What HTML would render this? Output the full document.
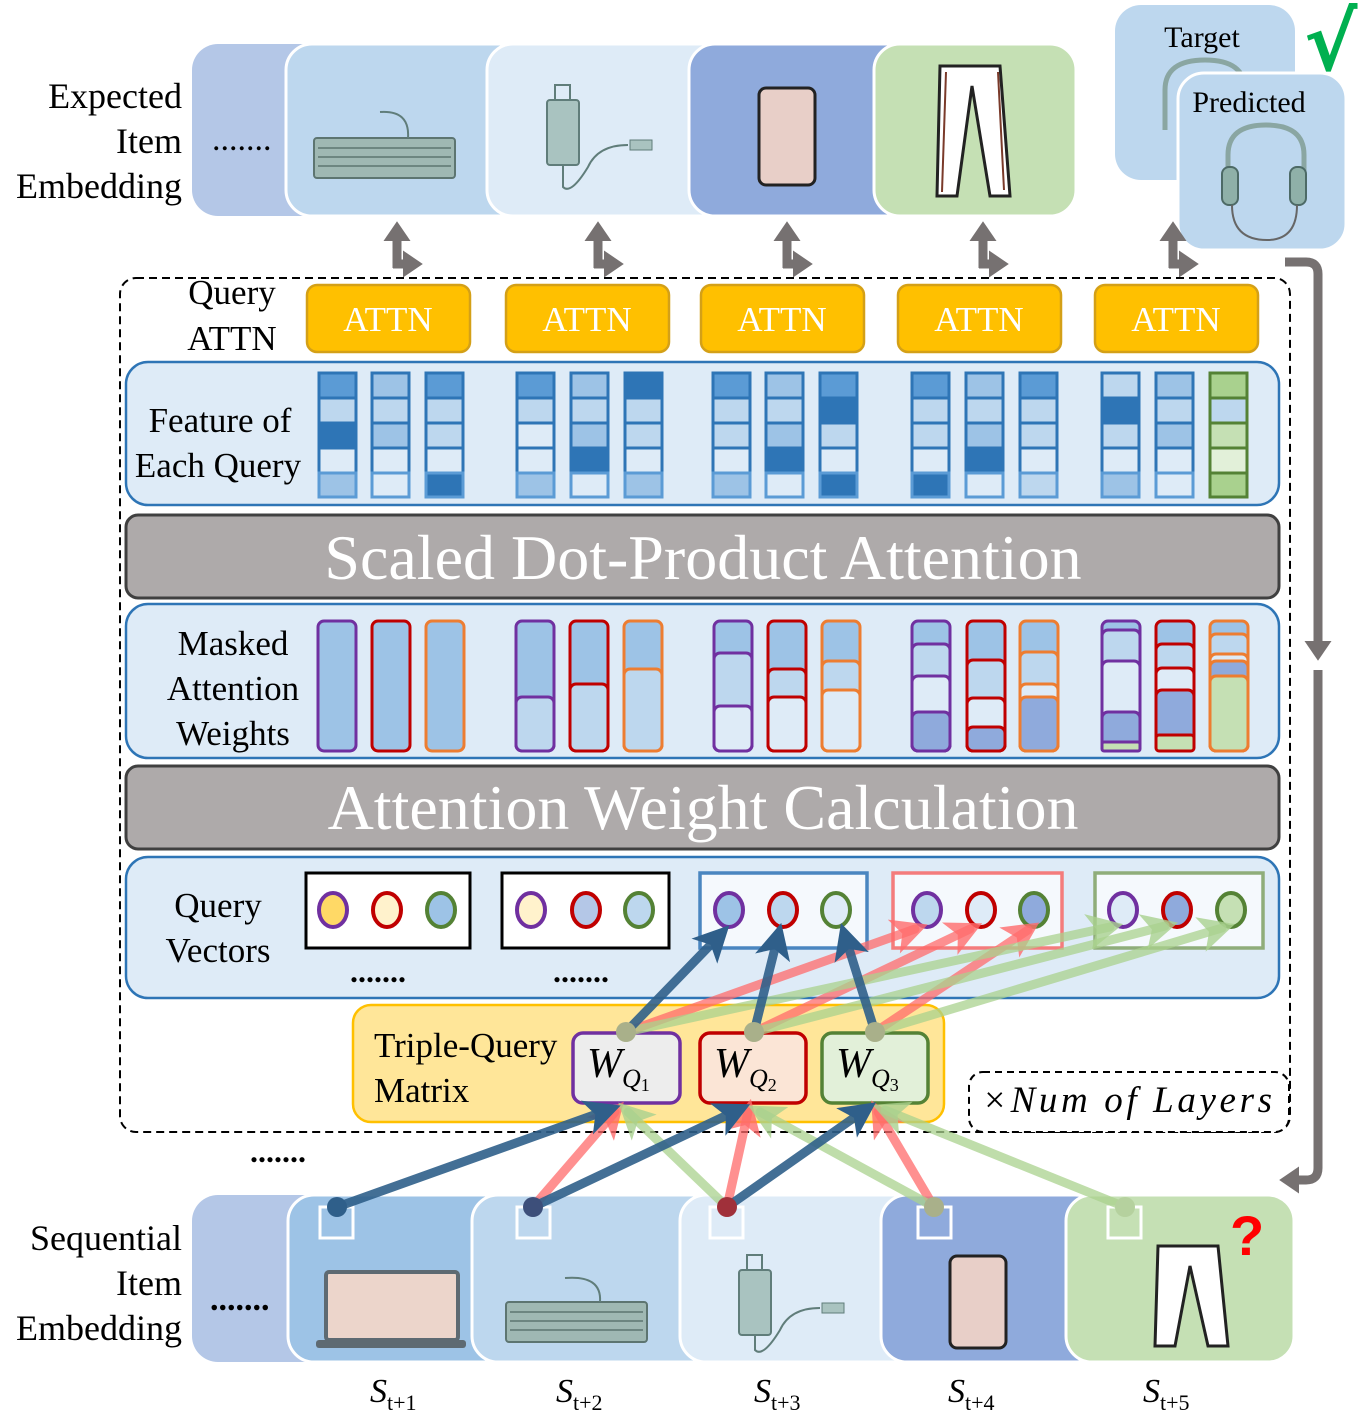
<!DOCTYPE html>
<html><head><meta charset="utf-8"><style>html,body{margin:0;padding:0;background:#fff}svg{display:block}</style></head><body>
<svg width="1368" height="1415" viewBox="0 0 1368 1415" xmlns="http://www.w3.org/2000/svg" font-family="Liberation Serif, serif">
<defs>
<marker id="ab" markerWidth="4" markerHeight="4" refX="2.5" refY="2" orient="auto" markerUnits="strokeWidth"><path d="M0,0 L4,2 L0,4 L1,2z" fill="#2f5f8a"/></marker>
<marker id="ar" markerWidth="4" markerHeight="4" refX="2.5" refY="2" orient="auto" markerUnits="strokeWidth"><path d="M0,0 L4,2 L0,4 L1,2z" fill="#ff6b6b" fill-opacity="0.8"/></marker>
<marker id="ag" markerWidth="4" markerHeight="4" refX="2.5" refY="2" orient="auto" markerUnits="strokeWidth"><path d="M0,0 L4,2 L0,4 L1,2z" fill="#a9d18e" fill-opacity="0.8"/></marker>
<marker id="gy" markerWidth="3" markerHeight="3" refX="1" refY="1.5" orient="auto" markerUnits="strokeWidth"><path d="M0,0 L2.2,1.5 L0,3z" fill="#767171"/></marker>
</defs>

<!-- Top cards -->
<g stroke="#fff" stroke-width="3">
<rect x="192" y="44" width="180" height="172" rx="26" fill="#b4c7e7" stroke="none"/>
<rect x="286" y="44" width="240" height="172" rx="26" fill="#bdd7ee"/>
<rect x="487" y="44" width="240" height="172" rx="26" fill="#deebf7"/>
<rect x="689" y="44" width="230" height="172" rx="26" fill="#8faadc"/>
<rect x="874" y="44" width="202" height="172" rx="26" fill="#c5e0b4"/>
</g>
<text x="182" y="108" font-size="36" text-anchor="end">Expected</text>
<text x="182" y="153" font-size="36" text-anchor="end">Item</text>
<text x="182" y="198" font-size="36" text-anchor="end">Embedding</text>
<text x="212" y="150" font-size="34">.......</text>
<rect x="314" y="138" width="141" height="40" rx="3" fill="#9fb8b3" stroke="#5d7571" stroke-width="2"/>
<path d="M318 148h133M318 157h133M318 166h133" stroke="#5d7571" stroke-width="1.5"/>
<path d="M408 138 Q410 110 380 112" stroke="#607d7a" stroke-width="2" fill="none"/>
<rect x="547" y="100" width="32" height="65" rx="3" fill="#a9c3c0" stroke="#607d7a" stroke-width="2"/>
<path d="M555 100 v-15 h15 v15 M563 165 v22 q8 8 25 -20 q10 -22 40 -22" stroke="#607d7a" stroke-width="2" fill="none"/>
<rect x="630" y="140" width="22" height="10" fill="#a9c3c0" stroke="#607d7a"/>
<rect x="759" y="88" width="56" height="97" rx="7" fill="#e8cfc8" stroke="#222" stroke-width="3"/>
<path d="M940 66 h60 l10 130 h-20 l-18 -110 l-15 110 h-20 z" fill="#fff" stroke="#222" stroke-width="3"/>
<path d="M946 72 l-4 120 M998 72 l6 118" stroke="#7a3a2a" stroke-width="2"/>

<!-- Target/Predicted -->
<rect x="1115" y="5" width="180" height="175" rx="26" fill="#bdd7ee"/>
<text x="1202" y="47" font-size="30" text-anchor="middle">Target</text>
<path d="M1165 130 v-40 q0 -30 40 -30 q40 0 40 30" stroke="#8aa6a2" stroke-width="5" fill="none"/>
<rect x="1178" y="73" width="168" height="177" rx="26" fill="#bdd7ee" stroke="#fff" stroke-width="3"/>
<text x="1249" y="112" font-size="30" text-anchor="middle">Predicted</text>
<path d="M1228 185 v-30 q0 -30 38 -30 q38 0 38 30 v30" stroke="#8aa6a2" stroke-width="5" fill="none"/>
<rect x="1222" y="167" width="16" height="38" rx="7" fill="#8fb0a8" stroke="#4d6a66" stroke-width="2"/>
<rect x="1290" y="167" width="16" height="38" rx="7" fill="#8fb0a8" stroke="#4d6a66" stroke-width="2"/>
<path d="M1232 205 q0 35 35 35 q30 0 30 -35" stroke="#666" stroke-width="2" fill="none"/>
<text x="1304" y="70" font-size="80" fill="#00b050" font-family="DejaVu Sans, sans-serif" font-weight="bold">√</text>

<!-- L arrows top -->
<g stroke="#767171" stroke-width="9" fill="none">
<path d="M397 268 V232" marker-end="url(#gy)"/><path d="M393 264 H412" marker-end="url(#gy)"/>
<path d="M598 268 V232" marker-end="url(#gy)"/><path d="M594 264 H613" marker-end="url(#gy)"/>
<path d="M787 268 V232" marker-end="url(#gy)"/><path d="M783 264 H802" marker-end="url(#gy)"/>
<path d="M983 268 V232" marker-end="url(#gy)"/><path d="M979 264 H998" marker-end="url(#gy)"/>
<path d="M1173 268 V232" marker-end="url(#gy)"/><path d="M1169 264 H1188" marker-end="url(#gy)"/>
</g>
<path d="M1285 262 H1306 Q1318 262 1318 274 V650" stroke="#767171" stroke-width="9" fill="none" marker-end="url(#gy)"/>
<path d="M1318 670 V1168 Q1318 1180 1306 1180 H1290" stroke="#767171" stroke-width="9" fill="none" marker-end="url(#gy)"/>

<rect x="120" y="278" width="1170" height="854" rx="16" fill="none" stroke="#000" stroke-width="2" stroke-dasharray="8 5"/>
<text x="232" y="304" font-size="35" text-anchor="middle">Query</text>
<text x="232" y="350" font-size="35" text-anchor="middle">ATTN</text>
<g fill="#ffc000" stroke="#d4a017" stroke-width="2.5">
<rect x="307" y="285" width="163" height="67" rx="10"/><rect x="506" y="285" width="163" height="67" rx="10"/>
<rect x="701" y="285" width="163" height="67" rx="10"/><rect x="898" y="285" width="163" height="67" rx="10"/>
<rect x="1095" y="285" width="163" height="67" rx="10"/>
</g>
<g fill="#fff" font-size="35" text-anchor="middle">
<text x="388" y="331">ATTN</text><text x="587" y="331">ATTN</text><text x="782" y="331">ATTN</text><text x="979" y="331">ATTN</text><text x="1176" y="331">ATTN</text>
</g>

<!-- Feature panel -->
<rect x="126" y="362" width="1153" height="143" rx="22" fill="#deebf7" stroke="#2e75b6" stroke-width="2.5"/>
<text x="220" y="432" font-size="35" text-anchor="middle">Feature of</text>
<text x="218" y="477" font-size="35" text-anchor="middle">Each Query</text>
<g stroke="#2e75b6" stroke-width="3">
<rect x="319" y="373" width="37" height="25" fill="#5b9bd5"/><rect x="319" y="398" width="37" height="25" fill="#bdd7ee"/><rect x="319" y="423" width="37" height="25" fill="#2e75b6"/><rect x="319" y="448" width="37" height="25" fill="#deebf7"/><rect x="319" y="473" width="37" height="24" fill="#9dc3e6" stroke="#5b9bd5"/>
<rect x="372" y="373" width="37" height="25" fill="#9dc3e6"/><rect x="372" y="398" width="37" height="25" fill="#bdd7ee"/><rect x="372" y="423" width="37" height="25" fill="#9dc3e6"/><rect x="372" y="448" width="37" height="25" fill="#deebf7"/><rect x="372" y="473" width="37" height="24" fill="#deebf7" stroke="#5b9bd5"/>
<rect x="426" y="373" width="37" height="25" fill="#5b9bd5"/><rect x="426" y="398" width="37" height="25" fill="#bdd7ee"/><rect x="426" y="423" width="37" height="25" fill="#bdd7ee"/><rect x="426" y="448" width="37" height="25" fill="#deebf7"/><rect x="426" y="473" width="37" height="24" fill="#2e75b6" stroke="#5b9bd5"/>
<rect x="517" y="373" width="37" height="25" fill="#5b9bd5"/><rect x="517" y="398" width="37" height="25" fill="#bdd7ee"/><rect x="517" y="423" width="37" height="25" fill="#deebf7"/><rect x="517" y="448" width="37" height="25" fill="#deebf7"/><rect x="517" y="473" width="37" height="24" fill="#9dc3e6" stroke="#5b9bd5"/>
<rect x="571" y="373" width="37" height="25" fill="#9dc3e6"/><rect x="571" y="398" width="37" height="25" fill="#bdd7ee"/><rect x="571" y="423" width="37" height="25" fill="#9dc3e6"/><rect x="571" y="448" width="37" height="25" fill="#2e75b6"/><rect x="571" y="473" width="37" height="24" fill="#deebf7" stroke="#5b9bd5"/>
<rect x="625" y="373" width="37" height="25" fill="#2e75b6"/><rect x="625" y="398" width="37" height="25" fill="#bdd7ee"/><rect x="625" y="423" width="37" height="25" fill="#bdd7ee"/><rect x="625" y="448" width="37" height="25" fill="#deebf7"/><rect x="625" y="473" width="37" height="24" fill="#9dc3e6" stroke="#5b9bd5"/>
<rect x="713" y="373" width="37" height="25" fill="#5b9bd5"/><rect x="713" y="398" width="37" height="25" fill="#bdd7ee"/><rect x="713" y="423" width="37" height="25" fill="#bdd7ee"/><rect x="713" y="448" width="37" height="25" fill="#deebf7"/><rect x="713" y="473" width="37" height="24" fill="#9dc3e6" stroke="#5b9bd5"/>
<rect x="766" y="373" width="37" height="25" fill="#9dc3e6"/><rect x="766" y="398" width="37" height="25" fill="#bdd7ee"/><rect x="766" y="423" width="37" height="25" fill="#9dc3e6"/><rect x="766" y="448" width="37" height="25" fill="#2e75b6"/><rect x="766" y="473" width="37" height="24" fill="#deebf7" stroke="#5b9bd5"/>
<rect x="820" y="373" width="37" height="25" fill="#5b9bd5"/><rect x="820" y="398" width="37" height="25" fill="#2e75b6"/><rect x="820" y="423" width="37" height="25" fill="#bdd7ee"/><rect x="820" y="448" width="37" height="25" fill="#deebf7"/><rect x="820" y="473" width="37" height="24" fill="#2e75b6" stroke="#5b9bd5"/>
<rect x="912" y="373" width="37" height="25" fill="#5b9bd5"/><rect x="912" y="398" width="37" height="25" fill="#bdd7ee"/><rect x="912" y="423" width="37" height="25" fill="#bdd7ee"/><rect x="912" y="448" width="37" height="25" fill="#deebf7"/><rect x="912" y="473" width="37" height="24" fill="#2e75b6" stroke="#5b9bd5"/>
<rect x="966" y="373" width="37" height="25" fill="#9dc3e6"/><rect x="966" y="398" width="37" height="25" fill="#bdd7ee"/><rect x="966" y="423" width="37" height="25" fill="#9dc3e6"/><rect x="966" y="448" width="37" height="25" fill="#2e75b6"/><rect x="966" y="473" width="37" height="24" fill="#deebf7" stroke="#5b9bd5"/>
<rect x="1020" y="373" width="37" height="25" fill="#5b9bd5"/><rect x="1020" y="398" width="37" height="25" fill="#bdd7ee"/><rect x="1020" y="423" width="37" height="25" fill="#bdd7ee"/><rect x="1020" y="448" width="37" height="25" fill="#deebf7"/><rect x="1020" y="473" width="37" height="24" fill="#bdd7ee" stroke="#5b9bd5"/>
<rect x="1102" y="373" width="37" height="25" fill="#bdd7ee"/><rect x="1102" y="398" width="37" height="25" fill="#2e75b6"/><rect x="1102" y="423" width="37" height="25" fill="#bdd7ee"/><rect x="1102" y="448" width="37" height="25" fill="#deebf7"/><rect x="1102" y="473" width="37" height="24" fill="#9dc3e6" stroke="#5b9bd5"/>
<rect x="1156" y="373" width="37" height="25" fill="#9dc3e6"/><rect x="1156" y="398" width="37" height="25" fill="#bdd7ee"/><rect x="1156" y="423" width="37" height="25" fill="#9dc3e6"/><rect x="1156" y="448" width="37" height="25" fill="#deebf7"/><rect x="1156" y="473" width="37" height="24" fill="#deebf7" stroke="#5b9bd5"/>
<g stroke="#548235"><rect x="1210" y="373" width="37" height="25" fill="#a9d18e"/><rect x="1210" y="398" width="37" height="25" fill="#bdd7ee"/><rect x="1210" y="423" width="37" height="25" fill="#c5e0b4"/><rect x="1210" y="448" width="37" height="25" fill="#e2f0d9"/><rect x="1210" y="473" width="37" height="24" fill="#a9d18e"/></g>
</g>

<rect x="126" y="515" width="1153" height="83" rx="12" fill="#aeaaaa" stroke="#404040" stroke-width="3"/>
<text x="703" y="579" font-size="64" fill="#fff" text-anchor="middle">Scaled Dot-Product Attention</text>

<rect x="126" y="604" width="1153" height="154" rx="22" fill="#deebf7" stroke="#2e75b6" stroke-width="2.5"/>
<text x="233" y="655" font-size="35" text-anchor="middle">Masked</text>
<text x="233" y="700" font-size="35" text-anchor="middle">Attention</text>
<text x="233" y="745" font-size="35" text-anchor="middle">Weights</text>
<g stroke-width="3">
<rect x="318" y="621" width="38" height="130" rx="6" fill="#9dc3e6" stroke="#7030a0"/>
<rect x="372" y="621" width="38" height="130" rx="6" fill="#9dc3e6" stroke="#c00000"/>
<rect x="426" y="621" width="38" height="130" rx="6" fill="#9dc3e6" stroke="#ed7d31"/>
<g stroke="#7030a0"><rect x="516" y="621" width="38" height="130" rx="6" fill="#9dc3e6"/><rect x="516" y="697" width="38" height="54" rx="6" fill="#bdd7ee"/></g>
<g stroke="#c00000"><rect x="570" y="621" width="38" height="130" rx="6" fill="#9dc3e6"/><rect x="570" y="684" width="38" height="67" rx="6" fill="#bdd7ee"/></g>
<g stroke="#ed7d31"><rect x="624" y="621" width="38" height="130" rx="6" fill="#9dc3e6"/><rect x="624" y="669" width="38" height="82" rx="6" fill="#bdd7ee"/></g>
<g stroke="#7030a0"><rect x="714" y="621" width="38" height="130" rx="6" fill="#9dc3e6"/><rect x="714" y="653" width="38" height="98" rx="6" fill="#bdd7ee"/><rect x="714" y="706" width="38" height="45" rx="6" fill="#deebf7"/></g>
<g stroke="#c00000"><rect x="768" y="621" width="38" height="130" rx="6" fill="#9dc3e6"/><rect x="768" y="669" width="38" height="82" rx="6" fill="#bdd7ee"/><rect x="768" y="697" width="38" height="54" rx="6" fill="#deebf7"/></g>
<g stroke="#ed7d31"><rect x="822" y="621" width="38" height="130" rx="6" fill="#9dc3e6"/><rect x="822" y="661" width="38" height="90" rx="6" fill="#bdd7ee"/><rect x="822" y="690" width="38" height="61" rx="6" fill="#deebf7"/></g>
<g stroke="#7030a0"><rect x="912" y="621" width="38" height="130" rx="6" fill="#9dc3e6"/><rect x="912" y="644" width="38" height="107" rx="6" fill="#bdd7ee"/><rect x="912" y="676" width="38" height="75" rx="6" fill="#deebf7"/><rect x="912" y="712" width="38" height="39" rx="6" fill="#8faadc"/></g>
<g stroke="#c00000"><rect x="967" y="621" width="38" height="130" rx="6" fill="#9dc3e6"/><rect x="967" y="660" width="38" height="91" rx="6" fill="#bdd7ee"/><rect x="967" y="698" width="38" height="53" rx="6" fill="#deebf7"/><rect x="967" y="727" width="38" height="24" rx="6" fill="#8faadc"/></g>
<g stroke="#ed7d31"><rect x="1020" y="621" width="38" height="130" rx="6" fill="#9dc3e6"/><rect x="1020" y="652" width="38" height="99" rx="6" fill="#bdd7ee"/><rect x="1020" y="684" width="38" height="67" rx="6" fill="#deebf7"/><rect x="1020" y="697" width="38" height="54" rx="6" fill="#8faadc"/></g>
<g stroke="#7030a0"><rect x="1102" y="621" width="38" height="130" rx="6" fill="#9dc3e6"/><rect x="1102" y="630" width="38" height="121" rx="6" fill="#bdd7ee"/><rect x="1102" y="661" width="38" height="90" rx="6" fill="#deebf7"/><rect x="1102" y="712" width="38" height="39" rx="6" fill="#8faadc"/><rect x="1102" y="742" width="38" height="9" rx="2" fill="#c5e0b4"/></g>
<g stroke="#c00000"><rect x="1156" y="621" width="38" height="130" rx="6" fill="#9dc3e6"/><rect x="1156" y="644" width="38" height="107" rx="6" fill="#bdd7ee"/><rect x="1156" y="668" width="38" height="83" rx="6" fill="#deebf7"/><rect x="1156" y="690" width="38" height="61" rx="6" fill="#8faadc"/><rect x="1156" y="735" width="38" height="16" rx="3" fill="#c5e0b4"/></g>
<g stroke="#ed7d31"><rect x="1210" y="621" width="38" height="130" rx="6" fill="#9dc3e6"/><rect x="1210" y="634" width="38" height="117" rx="6" fill="#bdd7ee"/><rect x="1210" y="654" width="38" height="97" rx="6" fill="#deebf7"/><rect x="1210" y="661" width="38" height="90" rx="6" fill="#8faadc"/><rect x="1210" y="676" width="38" height="75" rx="6" fill="#c5e0b4"/></g>
</g>

<rect x="126" y="766" width="1153" height="83" rx="12" fill="#aeaaaa" stroke="#404040" stroke-width="3"/>
<text x="703" y="829" font-size="64" fill="#fff" text-anchor="middle">Attention Weight Calculation</text>

<rect x="126" y="857" width="1153" height="141" rx="22" fill="#deebf7" stroke="#2e75b6" stroke-width="2.5"/>
<text x="218" y="917" font-size="35" text-anchor="middle">Query</text>
<text x="218" y="962" font-size="35" text-anchor="middle">Vectors</text>
<rect x="306" y="873" width="164" height="75" fill="#fff" stroke="#000" stroke-width="3"/>
<rect x="502" y="873" width="167" height="75" fill="#fff" stroke="#000" stroke-width="3"/>
<rect x="700" y="873" width="167" height="75" fill="#f5f9fd" stroke="#4a86c0" stroke-width="3.5"/>
<rect x="893" y="873" width="169" height="75" fill="#f5f9fd" stroke="#f47c7c" stroke-width="3.5"/>
<rect x="1095" y="873" width="168" height="75" fill="#f5f9fd" stroke="#8fad7a" stroke-width="3.5"/>
<text x="350" y="982" font-size="32" font-weight="bold">.......</text>
<text x="553" y="982" font-size="32" font-weight="bold">.......</text>
<g stroke-width="4">
<ellipse cx="333" cy="910" rx="14" ry="17" fill="#ffd966" stroke="#7030a0"/><ellipse cx="387" cy="910" rx="14" ry="17" fill="#fff2cc" stroke="#c00000"/><ellipse cx="441" cy="910" rx="14" ry="17" fill="#9dc3e6" stroke="#548235"/>
<ellipse cx="531" cy="910" rx="14" ry="17" fill="#fff2cc" stroke="#7030a0"/><ellipse cx="586" cy="910" rx="14" ry="17" fill="#b4c7e7" stroke="#c00000"/><ellipse cx="639" cy="910" rx="14" ry="17" fill="#bdd7ee" stroke="#548235"/>
<ellipse cx="729" cy="910" rx="14" ry="17" fill="#9dc3e6" stroke="#7030a0"/><ellipse cx="783" cy="910" rx="14" ry="17" fill="#bdd7ee" stroke="#c00000"/><ellipse cx="836" cy="910" rx="14" ry="17" fill="#deebf7" stroke="#548235"/>
<ellipse cx="927" cy="910" rx="14" ry="17" fill="#bdd7ee" stroke="#7030a0"/><ellipse cx="981" cy="910" rx="14" ry="17" fill="#deebf7" stroke="#c00000"/><ellipse cx="1034" cy="910" rx="14" ry="17" fill="#8faadc" stroke="#548235"/>
<ellipse cx="1123" cy="910" rx="14" ry="17" fill="#deebf7" stroke="#7030a0"/><ellipse cx="1177" cy="910" rx="14" ry="17" fill="#8faadc" stroke="#c00000"/><ellipse cx="1231" cy="910" rx="14" ry="17" fill="#c5e0b4" stroke="#548235"/>
</g>

<rect x="353" y="1005" width="591" height="117" rx="18" fill="#ffe699" stroke="#ffc000" stroke-width="2.5"/>
<text x="374" y="1057" font-size="35">Triple-Query</text>
<text x="374" y="1102" font-size="35">Matrix</text>
<rect x="573" y="1033" width="107" height="70" rx="10" fill="#ededed" stroke="#7030a0" stroke-width="3.5"/>
<rect x="700" y="1033" width="106" height="70" rx="10" fill="#fbe5d6" stroke="#c00000" stroke-width="3.5"/>
<rect x="822" y="1033" width="106" height="70" rx="10" fill="#e2f0d9" stroke="#548235" stroke-width="3.5"/>
<g font-size="42" font-style="italic"><text x="587" y="1077">W<tspan font-size="26" dy="10">Q</tspan><tspan font-size="18" dy="4" font-style="normal">1</tspan></text>
<text x="714" y="1077">W<tspan font-size="26" dy="10">Q</tspan><tspan font-size="18" dy="4" font-style="normal">2</tspan></text>
<text x="836" y="1077">W<tspan font-size="26" dy="10">Q</tspan><tspan font-size="18" dy="4" font-style="normal">3</tspan></text></g>

<rect x="969" y="1072" width="320" height="60" rx="14" fill="#fff" stroke="#000" stroke-width="2" stroke-dasharray="7 5"/>
<text x="982" y="1112" font-size="37" font-style="italic" textLength="290">×Num of Layers</text>

<g stroke="#fff" stroke-width="3">
<rect x="192" y="1195" width="160" height="167" rx="26" fill="#b4c7e7" stroke="none"/>
<rect x="288" y="1195" width="230" height="167" rx="26" fill="#9dc3e6"/>
<rect x="472" y="1195" width="250" height="167" rx="26" fill="#bdd7ee"/>
<rect x="680" y="1195" width="240" height="167" rx="26" fill="#deebf7"/>
<rect x="881" y="1195" width="220" height="167" rx="26" fill="#8faadc"/>
<rect x="1066" y="1195" width="228" height="167" rx="26" fill="#c5e0b4"/>
</g>
<text x="182" y="1250" font-size="36" text-anchor="end">Sequential</text>
<text x="182" y="1295" font-size="36" text-anchor="end">Item</text>
<text x="182" y="1340" font-size="36" text-anchor="end">Embedding</text>
<text x="210" y="1310" font-size="34" font-weight="bold">.......</text>
<text x="250" y="1162" font-size="32" font-weight="bold">.......</text>
<g fill="none" stroke="#fff" stroke-width="3">
<rect x="320" y="1207" width="33" height="31"/><rect x="517" y="1207" width="33" height="31"/><rect x="710" y="1207" width="33" height="31"/><rect x="918" y="1207" width="33" height="31"/><rect x="1108" y="1207" width="33" height="31"/>
</g>
<rect x="326" y="1272" width="132" height="68" rx="3" fill="#ecd5cb" stroke="#5e6a72" stroke-width="4"/>
<rect x="316" y="1340" width="150" height="8" rx="3" fill="#5e6a72"/>
<rect x="506" y="1302" width="141" height="40" rx="3" fill="#9fb8b3" stroke="#5d7571" stroke-width="2"/>
<path d="M510 1312h133M510 1321h133M510 1330h133" stroke="#5d7571" stroke-width="1.5"/>
<path d="M600 1302 Q602 1275 565 1278" stroke="#607d7a" stroke-width="2" fill="none"/>
<rect x="739" y="1270" width="32" height="65" rx="3" fill="#a9c3c0" stroke="#607d7a" stroke-width="2"/>
<path d="M747 1270 v-15 h15 v15 M755 1335 v15 q8 8 25 -20 q10 -22 40 -22" stroke="#607d7a" stroke-width="2" fill="none"/>
<rect x="822" y="1303" width="22" height="10" fill="#a9c3c0" stroke="#607d7a"/>
<rect x="950" y="1256" width="56" height="92" rx="7" fill="#e8cfc8" stroke="#222" stroke-width="3"/>
<path d="M1158 1246 h60 l10 100 h-20 l-18 -80 l-15 80 h-20 z" fill="#fff" stroke="#222" stroke-width="3"/>
<text x="1230" y="1255" font-size="56" fill="#ff0000" font-weight="bold" font-family="Liberation Sans, sans-serif">?</text>

<g stroke-width="9" stroke-linecap="round" fill="none">
<g stroke="#ff6b6b" stroke-opacity="0.75">
<line x1="533" y1="1207" x2="615" y2="1112" marker-end="url(#ar)"/>
<line x1="727" y1="1207" x2="748" y2="1112" marker-end="url(#ar)"/>
<line x1="934" y1="1207" x2="878" y2="1112" marker-end="url(#ar)"/>
<line x1="626" y1="1032" x2="915" y2="929" marker-end="url(#ar)"/>
<line x1="754" y1="1032" x2="970" y2="929" marker-end="url(#ar)"/>
<line x1="875" y1="1032" x2="1028" y2="930" marker-end="url(#ar)"/>
</g>
<g stroke="#a9d18e" stroke-opacity="0.75">
<line x1="727" y1="1207" x2="628" y2="1112" marker-end="url(#ag)"/>
<line x1="934" y1="1207" x2="760" y2="1112" marker-end="url(#ag)"/>
<line x1="1125" y1="1207" x2="885" y2="1110" marker-end="url(#ag)"/>
<line x1="626" y1="1032" x2="1110" y2="927" marker-end="url(#ag)"/>
<line x1="754" y1="1032" x2="1165" y2="926" marker-end="url(#ag)"/>
<line x1="875" y1="1032" x2="1222" y2="928" marker-end="url(#ag)"/>
</g>
<g stroke="#2f5f8a" stroke-opacity="0.9">
<line x1="337" y1="1207" x2="608" y2="1110" marker-end="url(#ab)"/>
<line x1="533" y1="1207" x2="738" y2="1110" marker-end="url(#ab)"/>
<line x1="727" y1="1207" x2="865" y2="1110" marker-end="url(#ab)"/>
<line x1="626" y1="1032" x2="720" y2="935" marker-end="url(#ab)"/>
<line x1="754" y1="1032" x2="778" y2="936" marker-end="url(#ab)"/>
<line x1="875" y1="1032" x2="845" y2="936" marker-end="url(#ab)"/>
</g>
</g>
<g>
<circle cx="626" cy="1032" r="10" fill="#a9b08a"/><circle cx="754" cy="1032" r="10" fill="#a9b08a"/><circle cx="875" cy="1032" r="10" fill="#a9b08a"/>
<circle cx="337" cy="1207" r="10" fill="#2f5f8a"/><circle cx="533" cy="1207" r="10" fill="#3d4f7a"/><circle cx="727" cy="1207" r="10" fill="#a0303a"/><circle cx="934" cy="1207" r="10" fill="#a9b08a"/><circle cx="1125" cy="1207" r="10" fill="#b5d19e"/>
</g>

<g font-size="34" font-style="italic">
<text x="370" y="1402">S<tspan font-size="22" dy="8" font-style="normal">t+1</tspan></text>
<text x="556" y="1402">S<tspan font-size="22" dy="8" font-style="normal">t+2</tspan></text>
<text x="754" y="1402">S<tspan font-size="22" dy="8" font-style="normal">t+3</tspan></text>
<text x="948" y="1402">S<tspan font-size="22" dy="8" font-style="normal">t+4</tspan></text>
<text x="1143" y="1402">S<tspan font-size="22" dy="8" font-style="normal">t+5</tspan></text>
</g>
</svg>
</body></html>
